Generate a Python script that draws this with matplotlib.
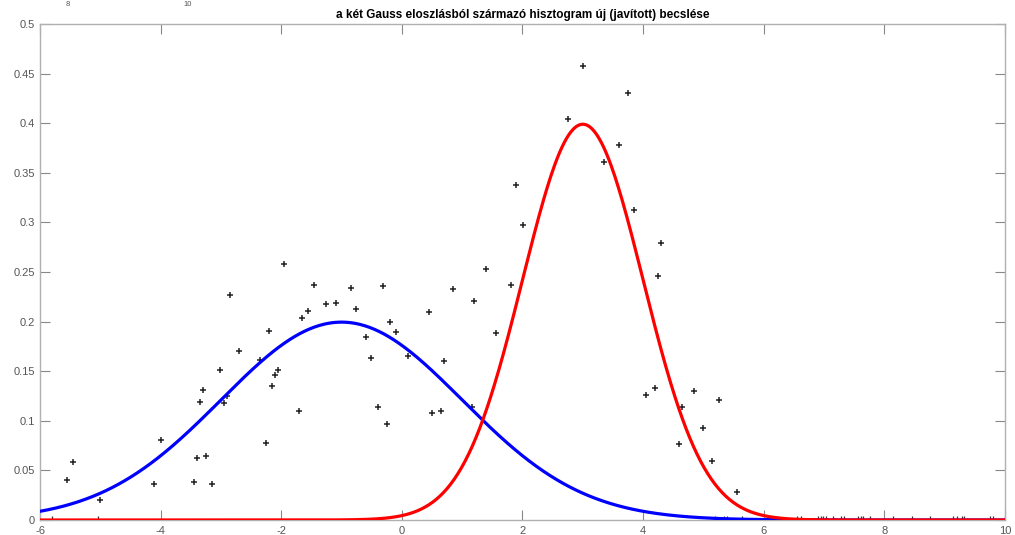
import numpy as np
import matplotlib
matplotlib.use("Agg")
import matplotlib.pyplot as plt

# --- data ---
pts_x = [-5.55, -5.45, -5.00, -4.11, -3.99, -3.45, -3.40, -3.25, -3.15, -2.26,
         -1.96, -2.85, -1.46, -1.26, -1.10, -1.56, -1.65, -2.21, -2.70, -2.35,
         -3.01, -3.30, -3.35, -2.90, -2.95, -2.05, -2.10, -2.15, -1.70,
         -0.85, -0.31, -0.755, -0.196, -0.096, -0.60, -0.506, 0.097, 0.446,
         0.854, 1.20, 1.396, 1.806, 1.557, 0.70, -0.40, -0.245, 0.50, 0.65, 1.16,
         4.30, 4.25, 4.05, 4.20, 4.85, 4.65, 5.255, 5.00, 4.60, 5.14, 5.55,
         3.005, 3.75, 2.75, 3.60, 3.35, 1.90, 3.856, 2.005]
pts_y = [0.040, 0.058, 0.020, 0.036, 0.081, 0.038, 0.062, 0.0645, 0.036, 0.078,
         0.258, 0.2265, 0.237, 0.2175, 0.219, 0.211, 0.204, 0.191, 0.170, 0.161,
         0.151, 0.131, 0.119, 0.125, 0.1176, 0.151, 0.146, 0.1354, 0.110,
         0.234, 0.236, 0.2124, 0.200, 0.1895, 0.1845, 0.1636, 0.165, 0.2097,
         0.233, 0.2204, 0.253, 0.237, 0.1885, 0.160, 0.114, 0.0968, 0.108, 0.110, 0.114,
         0.279, 0.246, 0.126, 0.1327, 0.130, 0.114, 0.121, 0.0924, 0.0766, 0.0595, 0.028,
         0.458, 0.430, 0.4045, 0.378, 0.3606, 0.338, 0.312, 0.2977]
zero_x = [-5.80, -5.04, 5.194, 5.348, 5.388, 5.637, 6.134, 6.189, 6.217, 6.549,
          6.620, 6.907, 6.952, 6.990, 7.035, 7.156, 7.284, 7.338, 7.570, 7.610,
          7.653, 7.765, 8.151, 8.456, 8.760, 9.146, 9.202, 9.285, 9.323, 9.754,
          9.809, 10.0]

# Gaussian components (mean, std)
blue_mu, blue_sigma = -1.0, 2.0
red_mu, red_sigma = 3.0, 1.0

title = "a két Gauss eloszlásból származó hisztogram új (javított) becslése"
xticks = [-6, -4, -2, 0, 2, 4, 6, 8, 10]
yticks = [0, 0.05, 0.1, 0.15, 0.2, 0.25, 0.3, 0.35, 0.4, 0.45, 0.5]
ytick_labels = ["0", "0.05", "0.1", "0.15", "0.2", "0.25", "0.3", "0.35", "0.4", "0.45", "0.5"]
top_labels = ["8", "10"]


def gauss(x, mu, s):
    return np.exp(-0.5 * ((x - mu) / s) ** 2) / (s * np.sqrt(2 * np.pi))


plt.rcParams['font.family'] = ['Liberation Sans', 'DejaVu Sans']

fig = plt.figure(figsize=(10.15, 5.35), dpi=100)
ax = fig.add_axes([40 / 1015, 15 / 535, 965 / 1015, 496 / 535])

gray = '#555555'
ax.plot(pts_x, pts_y, linestyle='none', marker='+', color='#222222',
        markersize=5, markeredgewidth=1.1, zorder=2)
ax.plot(zero_x, [0] * len(zero_x), linestyle='none', marker='+', color='#333333',
        markersize=5.5, markeredgewidth=0.9, zorder=2)

xs = np.linspace(-6, 10, 800)
ax.plot(xs, gauss(xs, blue_mu, blue_sigma), color='#0000ff', lw=2.3, zorder=3)
ax.plot(xs, gauss(xs, red_mu, red_sigma), color='#ff0000', lw=2.3, zorder=4)

ax.set_xlim(-6, 10)
ax.set_ylim(0, 0.5)
ax.set_xticks(xticks)
ax.set_xticklabels([str(t) for t in xticks])
ax.set_yticks(yticks)
ax.set_yticklabels(ytick_labels)
ax.tick_params(direction='in', length=7, width=0.8, color='#888888',
               labelcolor=gray, labelsize=8, top=True, right=True)
ax.tick_params(axis='x', pad=4)
for sp in ax.spines.values():
    sp.set_color('#b0b0b0')
    sp.set_linewidth(1.0)

ax.set_title(title, fontsize=8.5, fontweight='bold', pad=4)

# small labels of a figure above (cropped in the reference)
fig.text(68 / 1015, 0.999, top_labels[0], fontsize=5.5, color=gray, ha='center', va='top')
fig.text(188 / 1015, 0.999, top_labels[1], fontsize=5.5, color=gray, ha='center', va='top')

fig.savefig("out.png", dpi=100)
